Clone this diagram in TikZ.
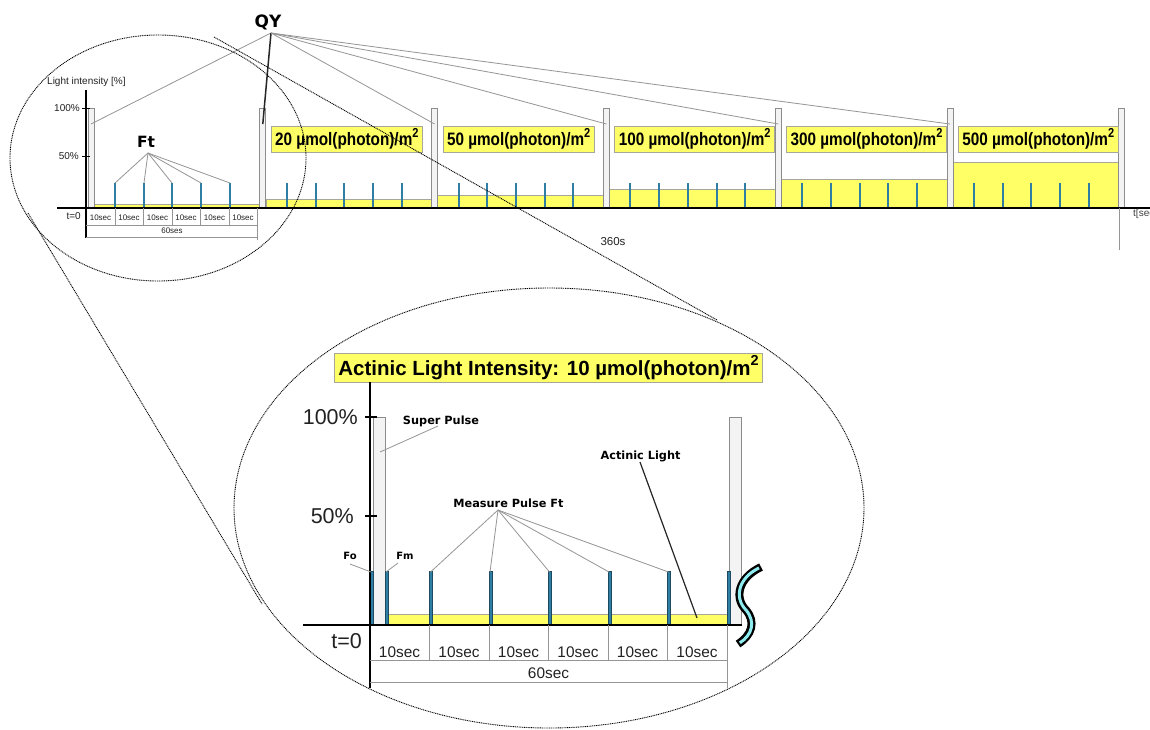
\documentclass[tikz,border=0pt]{standalone}
\usepackage{fontspec}
\usepackage{graphicx}
\setmainfont{Liberation Sans}
\newfontfamily\wide{DejaVu Sans}
\definecolor{ylw}{HTML}{FFFF66}
\definecolor{ybd}{HTML}{A6A69A}
\definecolor{pgray}{HTML}{F3F3F3}
\definecolor{pbd}{HTML}{8C8C8C}
\definecolor{tickc}{HTML}{2E7FA3}
\definecolor{tickd}{HTML}{1D4A60}
\definecolor{lgray}{HTML}{959595}
\definecolor{cyanS}{HTML}{8EEBF0}
\definecolor{txtc}{HTML}{222222}
\newcommand\toplab[1]{\scalebox{0.85}[1]{\fontsize{18}{20}\selectfont\bfseries #1 µmol(photon)/m\raisebox{0.45em}{\fontsize{13}{13}\selectfont 2}}}
\begin{document}
\begin{tikzpicture}[x=1pt,y=-1pt,
  txt/.style={inner sep=0pt,text=txtc},
  f8/.style={txt,font=\fontsize{8}{9}\selectfont},
  f10/.style={txt,font=\fontsize{10}{12}\selectfont},
  f15/.style={txt,font=\fontsize{15.4}{17}\selectfont},
  f21/.style={txt,font=\fontsize{21.5}{24}\selectfont},
  wb/.style={inner sep=0pt,text=black,font=\wide\bfseries\fontsize{#1}{#1}\selectfont},
  pulse/.style={fill=pgray,draw=pbd,line width=0.7pt},
  ybar/.style={fill=ylw,draw=ybd,line width=0.6pt},
  lbl/.style={fill=ylw,draw=ybd,line width=0.8pt,inner xsep=4pt,inner ysep=0pt,minimum height=26pt,text=black},
  axisl/.style={line width=1.5pt,black},
  thin/.style={line width=0.7pt,lgray},
  conn/.style={line width=0.8pt,lgray},
  dline/.style={line width=0.9pt,black,dash pattern=on 1pt off 0.8pt},
]
\useasboundingbox (0,0) rectangle (1150,729);
\fill[white] (0,0) rectangle (1150,729);

% ---------------- top chart ----------------
\foreach \k/\yt in {0/204,1/199.5,2/195.7,3/189,4/179,5/162.3}{
  \pgfmathsetmacro\xk{88+171.8*\k}
  \pgfmathsetmacro\xn{88+171.8*(\k+1)}
  \draw[ybar] (\xk+6,\yt) rectangle (\xn,208);
  \foreach \j in {0,...,4}{
    \pgfmathsetmacro\tx{round(\xk+27+28.7*\j)}
    \fill[tickc] (\tx-0.9,208) rectangle (\tx+0.9,183);
    \coordinate (t\k\j) at (\tx,183);
  }
}
\foreach \k in {0,...,6}{
  \pgfmathsetmacro\xk{88+171.8*\k}
  \draw[pulse] (\xk,108) rectangle (\xk+6,208);
  \coordinate (q\k) at (\xk+3,124);
}
\foreach \k/\v in {1/20,2/50,3/100,4/300,5/500}{
  \pgfmathsetmacro\xk{88+171.8*\k}
  \node[lbl,anchor=west] (L\k) at (\xk+11,139) {\toplab{\v}};
}
% axes
\draw[axisl] (57,208) -- (1150,208);
\draw[axisl] (86,90) -- (86,238);
\draw[line width=1pt] (82,108) -- (90,108);
\draw[line width=1pt] (82,156) -- (90,156);
\node[f10,anchor=west] (ylab) at (47,82) {Light intensity [\%]};
\node[f10,anchor=east] (p100) at (80,108) {100\%};
\node[f10,anchor=east] (p50) at (79,156) {50\%};
\node[f10,anchor=east] (tz) at (81,216) {t=0};
% time scale of the first minute
\foreach \x in {115,143,172,200,229}{\draw[thin] (\x,208) -- (\x,226);}
\draw[thin] (257,208) -- (257,240);
\draw[thin] (86,225) -- (257,225);
\draw[thin] (86,237) -- (257,237);
\foreach \c in {100.5,129,157.5,186,214.5,243}{\node[f8] at (\c,218) {10sec};}
\node[f8] (sixty) at (172,231) {60ses};
\node[txt,font=\fontsize{11.5}{13}\selectfont] (s360) at (613,242) {360s};
\draw[thin] (1119,208) -- (1119,250);
\node[f10,anchor=west,text=black!75] (tsec) at (1133,214) {t[sec]};

% QY and Ft
\node[wb=17] (QY) at (268,22) {QY};
\coordinate (qa) at (271,33);
\draw[conn] (qa) -- (q0);
\draw[line width=1.5pt,black!85] (qa) -- (q1);
\foreach \k in {2,...,5}{\draw[conn] (qa) -- (q\k);}
\node[wb=15.5] (Ft) at (146,142) {Ft};
\coordinate (fa) at (148,153);
\foreach \j in {0,...,4}{\draw[conn] (fa) -- (t0\j);}

% ---------------- magnifier ellipses ----------------
\draw[dline] (158,158) ellipse [x radius=148pt, y radius=123pt];
\draw[dline] (549,508) ellipse [x radius=315pt, y radius=220pt];
\coordinate (u1) at (214,37);
\coordinate (u2) at (717,320);
\coordinate (w1) at (28,213);
\coordinate (w2) at (262,604);
\draw[dline] (u1) -- (u2);
\draw[dline] (w1) -- (w2);

% ---------------- bottom chart ----------------
\fill[white] (335,353) rectangle (762,382);
\node[fill=ylw,draw=ybd,line width=0.8pt,inner xsep=4pt,inner ysep=0pt,minimum height=29pt,
  font=\fontsize{20.5}{22}\selectfont\bfseries] (T) at (548.5,367.5)
  {Actinic Light Intensity: 10 µmol(photon)/m\raisebox{0.45em}{\fontsize{14.5}{15}\selectfont 2}};
% bars
\draw[ybar] (388,614) rectangle (727,625);
\draw[pulse] (373,417) rectangle (385,625);
\draw[pulse] (729,417) rectangle (741,625);
% measuring pulses
\foreach \x/\n in {370/a,385/b,429.5/c,489/d,548.5/e,608/f,667.5/g,727/h}{
  \draw[fill=tickc,draw=tickd,line width=0.4pt] (\x,571) rectangle (\x+3,625);
  \coordinate (m\n) at (\x+1,572);
}
% axes
\draw[axisl] (303,625) -- (742,625);
\draw[axisl] (370,382) -- (370,688);
\draw[line width=1.2pt] (365,417) -- (377,417);
\draw[line width=1.2pt] (365,516) -- (377,516);
\node[f21,anchor=east] (b100) at (358,417) {100\%};
\node[f21,anchor=east] (b50) at (354,516) {50\%};
\node[f21,anchor=east] (bt0) at (362,641) {t=0};
% time scale
\foreach \j in {1,...,5}{\draw[thin] (370+59.5*\j,625) -- (370+59.5*\j,661);}
\draw[thin] (727,625) -- (727,688);
\draw[thin] (370,660) -- (727,660);
\draw[thin] (370,682) -- (727,682);
\foreach \j in {0,...,5}{\node[f15] at (399.5+59.5*\j,652) {10sec};}
\node[f15] (b60) at (548.5,673.5) {60sec};
% labels
\node[wb=11.3] (SP) at (441,421) {Super Pulse};
\draw[conn] (438,426) -- (380,452);
\node[wb=11.3] (AL) at (640.5,456) {Actinic Light};
\draw[line width=1.2pt,black!85] (640,462) -- (697,618);
\node[wb=11.3] (MP) at (508.5,503) {Measure Pulse Ft};
\coordinate (mpx) at (498,510);
\foreach \n in {c,d,e,f,g}{\draw[conn] (mpx) -- (m\n);}
\node[wb=10] (Fo) at (350,556) {Fo};
\draw[conn] (350,564) -- (ma);
\node[wb=10] (Fm) at (405,556) {Fm};
\draw[conn] (398,563) -- (mb);
% squiggle
\draw[line width=8pt,black,line cap=butt,line join=round]
  (761,567) .. controls (738,578) and (734,598) .. (746,610) .. controls (756,622) and (752,635) .. (738,644);
\draw[line width=3pt,cyanS,line cap=butt,shorten <=2.2pt,shorten >=2.2pt]
  (761,567) .. controls (738,578) and (734,598) .. (746,610) .. controls (756,622) and (752,635) .. (738,644);
\end{tikzpicture}
\end{document}
